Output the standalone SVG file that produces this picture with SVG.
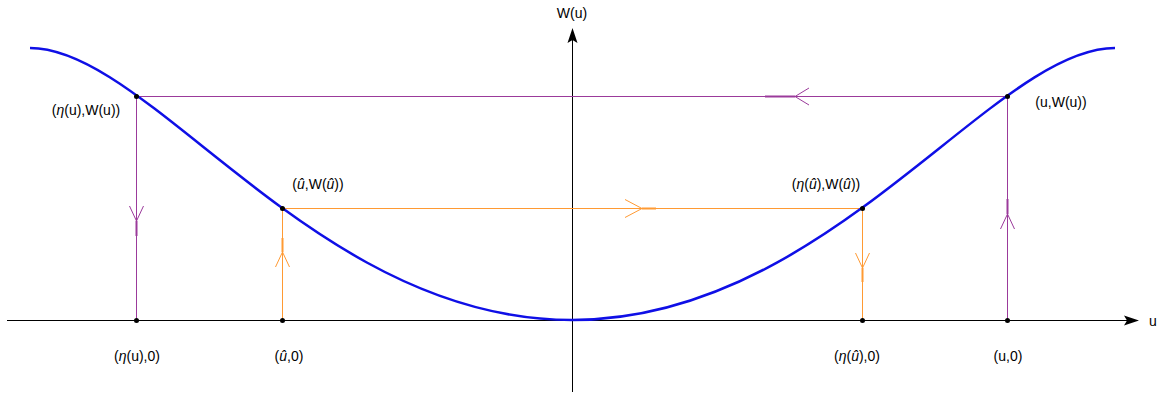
<svg xmlns="http://www.w3.org/2000/svg" width="1160" height="399" viewBox="0 0 1160 399">
<style>
  text { font-family: "Liberation Sans", Arial, sans-serif; font-size: 14px; fill: #000; }
  .it { font-style: italic; }
  .axis { stroke: #000; stroke-width: 1; fill: none; }
  .pur { stroke: #9b3a9b; stroke-width: 1; fill: none; }
  .pur-h { stroke: #9b3a9b; stroke-width: 2; fill: none; }
  .org { stroke: #ff9a33; stroke-width: 1; fill: none; }
  .org-h { stroke: #ff9a33; stroke-width: 2; fill: none; }
  .curve { stroke: #0f0fe6; stroke-width: 2.5; fill: none; }
  .dot { fill: #000; }
</style>
<rect width="1160" height="399" fill="#fff"/>
<g id="axes">
  <line class="axis" x1="7" y1="320.5" x2="1128" y2="320.5"/>
  <path d="M1139,320.5 L1124,315.5 L1127,320.5 L1124,325.5 Z" fill="#000"/>
  <line class="axis" x1="572.5" y1="392" x2="572.5" y2="40"/>
  <path d="M572.5,28 L567.5,43 L572.5,40 L577.5,43 Z" fill="#000"/>
  <text x="572" y="18" text-anchor="middle">W(u)</text>
  <text x="1153" y="326" text-anchor="middle">u</text>
</g>
<g id="connectors">
  <!-- purple -->
  <line class="pur" x1="136" y1="96.5" x2="1007" y2="96.5"/>
  <line class="pur-h" x1="765" y1="96.5" x2="795" y2="96.5"/>
  <polyline class="pur" points="809,88 795,96.5 809,105"/>
  <line class="pur" x1="136.5" y1="96" x2="136.5" y2="320"/>
  <line class="pur-h" x1="136.5" y1="221" x2="136.5" y2="236"/>
  <polyline class="pur" points="129.5,206 136.5,221 143.5,206"/>
  <line class="pur" x1="1007.5" y1="96" x2="1007.5" y2="320"/>
  <line class="pur-h" x1="1007.5" y1="199" x2="1007.5" y2="214"/>
  <polyline class="pur" points="1000.5,229 1007.5,214 1014.5,229"/>
  <!-- orange -->
  <line class="org" x1="282" y1="208.5" x2="862" y2="208.5"/>
  <line class="org-h" x1="642" y1="208.5" x2="656" y2="208.5"/>
  <polyline class="org" points="625,199.5 642,208.5 625,217.5"/>
  <line class="org" x1="282.5" y1="208" x2="282.5" y2="320"/>
  <line class="org-h" x1="282.5" y1="238" x2="282.5" y2="252"/>
  <polyline class="org" points="275.5,267 282.5,252 289.5,267"/>
  <line class="org" x1="862.5" y1="208" x2="862.5" y2="320"/>
  <line class="org-h" x1="862.5" y1="268" x2="862.5" y2="282"/>
  <polyline class="org" points="855.5,253 862.5,268 869.5,253"/>
</g>
<g id="curve">
  <path class="curve" d="M30,48 C151.2,48 315.2,320 572,320 C828.8,320 992.8,48 1115,48"/>
</g>
<g id="node-eta-u-Wu">
  <circle class="dot" cx="136.5" cy="96.5" r="2.5"/>
  <text x="86" y="115" text-anchor="middle">(<tspan class="it">η</tspan>(u),W(u))</text>
</g>
<g id="node-u-Wu">
  <circle class="dot" cx="1007.5" cy="96.5" r="2.5"/>
  <text x="1061" y="107" text-anchor="middle">(u,W(u))</text>
</g>
<g id="node-uhat-Wuhat">
  <circle class="dot" cx="282.5" cy="208.5" r="2.5"/>
  <text x="318" y="189" text-anchor="middle">(<tspan class="it">û</tspan>,W(<tspan class="it">û</tspan>))</text>
</g>
<g id="node-eta-uhat-Wuhat">
  <circle class="dot" cx="862.5" cy="208.5" r="2.5"/>
  <text x="826" y="189" text-anchor="middle">(<tspan class="it">η</tspan>(<tspan class="it">û</tspan>),W(<tspan class="it">û</tspan>))</text>
</g>
<g id="node-eta-u-0">
  <circle class="dot" cx="136.5" cy="320.5" r="2.5"/>
  <text x="137" y="361" text-anchor="middle">(<tspan class="it">η</tspan>(u),0)</text>
</g>
<g id="node-uhat-0">
  <circle class="dot" cx="282.5" cy="320.5" r="2.5"/>
  <text x="289" y="361" text-anchor="middle">(<tspan class="it">û</tspan>,0)</text>
</g>
<g id="node-eta-uhat-0">
  <circle class="dot" cx="862.5" cy="320.5" r="2.5"/>
  <text x="857" y="361" text-anchor="middle">(<tspan class="it">η</tspan>(<tspan class="it">û</tspan>),0)</text>
</g>
<g id="node-u-0">
  <circle class="dot" cx="1007.5" cy="320.5" r="2.5"/>
  <text x="1008" y="361" text-anchor="middle">(u,0)</text>
</g>
</svg>
